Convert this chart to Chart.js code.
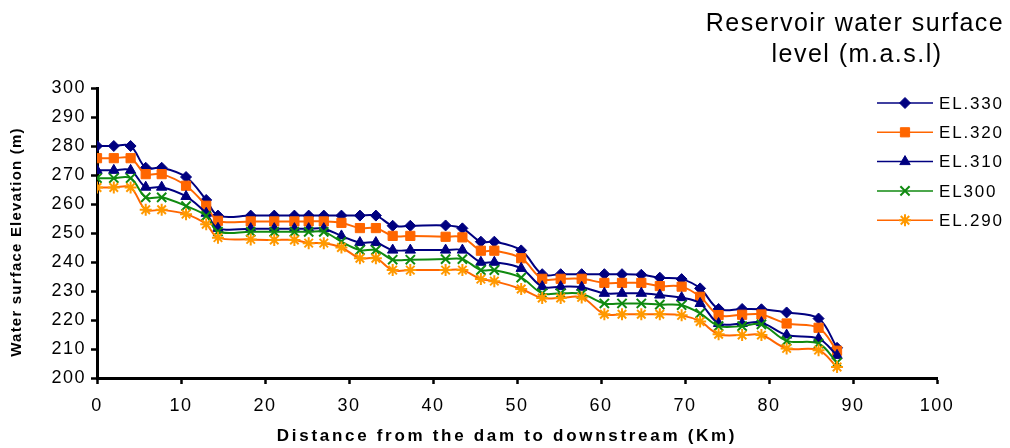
<!DOCTYPE html>
<html>
<head>
<meta charset="utf-8">
<script src="https://cdn.jsdelivr.net/npm/chart.js@4.4.1/dist/chart.umd.min.js"></script>
<style>
  html, body { margin: 0; padding: 0; background: #fff; }
  #wrap { width: 1010px; height: 448px; }
</style>
</head>
<body>
<div id="wrap"><canvas id="chart" width="1010" height="448"></canvas></div>
<script>
// distance from the dam (km) for each cross section
const distanceKm = [0, 2, 4, 5.8, 7.7, 10.6, 13.0, 14.4, 18.3, 21.1, 23.5, 25.2, 27.0, 29.1, 31.3, 33.2, 35.2, 37.3, 41.5, 43.5, 45.7, 47.3, 50.5, 53.0, 55.2, 57.7, 60.4, 62.5, 64.8, 67.0, 69.6, 71.8, 74.0, 76.8, 79.1, 82.1, 85.9, 88.1];

// water surface elevation (m) for each reservoir level
const el330 = [280, 280, 280, 272.5, 272.5, 269.3, 261.4, 256, 256, 256, 256, 256, 256, 256, 256, 256, 252.5, 252.5, 252.6, 251.6, 247, 247, 244, 235.8, 235.8, 235.8, 235.8, 235.8, 235.6, 234.6, 234.1, 230.9, 223.8, 223.8, 223.7, 222.6, 220.5, 210.4];
const el320 = [275.8, 275.8, 275.8, 270.3, 270.3, 266.3, 259.4, 254.2, 254, 254, 254, 254, 254, 253.5, 251.7, 251.7, 249, 249, 248.7, 248.5, 243.9, 243.9, 241.3, 234.2, 234.2, 234.2, 232.8, 232.8, 232.8, 231.7, 231.5, 228, 221.7, 221.8, 221.9, 218.8, 217.3, 209.4];
const el310 = [271.6, 271.6, 271.6, 265.8, 265.8, 262.6, 256.8, 251.6, 251.5, 251.5, 251.5, 251.5, 251.5, 249, 246.7, 246.7, 244.1, 244.1, 244.1, 244.1, 239.9, 239.9, 237.8, 231.5, 231.5, 231.3, 229.2, 229.2, 229.2, 228.6, 227.7, 225.7, 218.8, 218.8, 219.1, 214.8, 213.6, 207.8];
const el300 = [268.9, 268.9, 268.9, 262.3, 262.3, 259.3, 255.9, 250.5, 250.4, 250.4, 250.4, 250.4, 250.4, 247, 244.1, 244.1, 240.8, 240.8, 241, 241, 237.2, 237.2, 234.6, 229.2, 229.2, 229, 225.7, 225.7, 225.7, 225.3, 225.1, 222.3, 217.9, 217.9, 218.5, 212.8, 211.9, 205.3];
const el290 = [265.7, 265.7, 265.7, 258, 258, 256.5, 253, 248.4, 247.8, 247.6, 247.6, 246.5, 246.5, 245, 241.3, 241.3, 237.2, 237.2, 237.2, 237.2, 234.1, 233.4, 230.7, 227.6, 227.6, 227.8, 222, 222, 222, 222, 221.6, 219.5, 215.1, 214.8, 214.8, 210.2, 209.6, 203.8];

const seriesLabels = ['EL.330', 'EL.320', 'EL.310', 'EL300', 'EL.290'];
const xRange = [0, 100, 10];
const yRange = [200, 300, 10];

const titleLines = ['Reservoir water surface', 'level (m.a.s.l)'];
const xTitle = 'Distance from the dam to downstream (Km)';
const yTitle = 'Water surface Elevation (m)';

const FONT = '"Liberation Sans", Arial, sans-serif';

function pts(ys) {
  return ys.map((y, i) => ({ x: distanceKm[i], y: y }));
}

const styles = [
  { line: '#000080', fill: '#000080', stroke: '#000080', shape: 'rectRot', r: 5.5, bw: 1 },
  { line: '#FF6600', fill: '#FF6600', stroke: '#FF6600', shape: 'rect', r: 6.5, bw: 1 },
  { line: '#000080', fill: '#000080', stroke: '#000080', shape: 'triangle', r: 6, bw: 1 },
  { line: '#108a10', fill: '#108a10', stroke: '#108a10', shape: 'crossRot', r: 6.5, bw: 2 },
  { line: '#FF6600', fill: '#FF9900', stroke: '#FF9900', shape: 'star', r: 6, bw: 2 }
];

const allSeries = [el330, el320, el310, el300, el290];

const datasets = allSeries.map((ys, i) => ({
  label: seriesLabels[i],
  data: pts(ys),
  borderColor: styles[i].line,
  borderWidth: 2,
  tension: 0.35,
  fill: false,
  pointStyle: styles[i].shape,
  pointRadius: styles[i].r,
  pointBackgroundColor: styles[i].fill,
  pointBorderColor: styles[i].stroke,
  pointBorderWidth: styles[i].bw,
  order: 4 - i
}));

// titles, axis titles and legend, placed like the original figure
const decorations = {
  id: 'decorations',
  beforeDraw(chart) {
    chart.ctx.letterSpacing = '1.5px';
  },
  afterDraw(chart) {
    const ctx = chart.ctx;
    ctx.save();
    ctx.fillStyle = '#000';
    ctx.textBaseline = 'middle';

    // chart title
    ctx.font = '25px ' + FONT;
    ctx.letterSpacing = '1.5px';
    ctx.textAlign = 'center';
    ctx.fillText(titleLines[0], 855, 24);
    ctx.fillText(titleLines[1], 857, 55);

    // x axis title
    ctx.font = 'bold 17px ' + FONT;
    ctx.letterSpacing = '2.7px';
    ctx.fillText(xTitle, 507, 436);

    // y axis title
    ctx.save();
    ctx.translate(17, 242);
    ctx.rotate(-Math.PI / 2);
    ctx.font = 'bold 15px ' + FONT;
    ctx.letterSpacing = '1.2px';
    ctx.fillText(yTitle, 0, 0);
    ctx.restore();

    // legend
    ctx.font = '17px ' + FONT;
    ctx.letterSpacing = '1.8px';
    ctx.textAlign = 'left';
    styles.forEach((s, i) => {
      const y = 103 + i * 29.3;
      ctx.strokeStyle = s.line;
      ctx.lineWidth = 1.5;
      ctx.beginPath();
      ctx.moveTo(877, y);
      ctx.lineTo(933, y);
      ctx.stroke();
      ctx.fillStyle = s.fill;
      ctx.strokeStyle = s.stroke;
      ctx.lineWidth = s.bw;
      Chart.helpers.drawPoint(ctx, { pointStyle: s.shape, radius: s.r, rotation: 0, borderWidth: s.bw }, 905, y);
      ctx.fillStyle = '#000';
      ctx.fillText(seriesLabels[i], 939, y + 1);
    });
    ctx.restore();
  }
};

new Chart(document.getElementById('chart'), {
  type: 'line',
  data: { datasets: datasets },
  options: {
    responsive: false,
    animation: false,
    layout: { padding: { left: 0, right: 73, top: 88, bottom: 0 } },
    plugins: {
      legend: { display: false },
      tooltip: { enabled: false }
    },
    scales: {
      x: {
        type: 'linear',
        min: xRange[0],
        max: xRange[1],
        ticks: {
          stepSize: xRange[2],
          color: '#000',
          padding: 11,
          maxRotation: 0,
          font: { family: FONT, size: 18 }
        },
        grid: { drawOnChartArea: false, drawTicks: true, tickLength: 6, tickWidth: 2.5, tickColor: '#000' },
        border: { display: true, color: '#000', width: 3 },
        afterFit(scale) { scale.height = 70; }
      },
      y: {
        type: 'linear',
        min: yRange[0],
        max: yRange[1],
        ticks: {
          stepSize: yRange[2],
          color: '#000',
          padding: 5,
          font: { family: FONT, size: 18 }
        },
        grid: { drawOnChartArea: false, drawTicks: true, tickLength: 6, tickWidth: 2.5, tickColor: '#000' },
        border: { display: true, color: '#000', width: 3 },
        afterFit(scale) { scale.width = 97; }
      }
    }
  },
  plugins: [decorations]
});
</script>
</body>
</html>
